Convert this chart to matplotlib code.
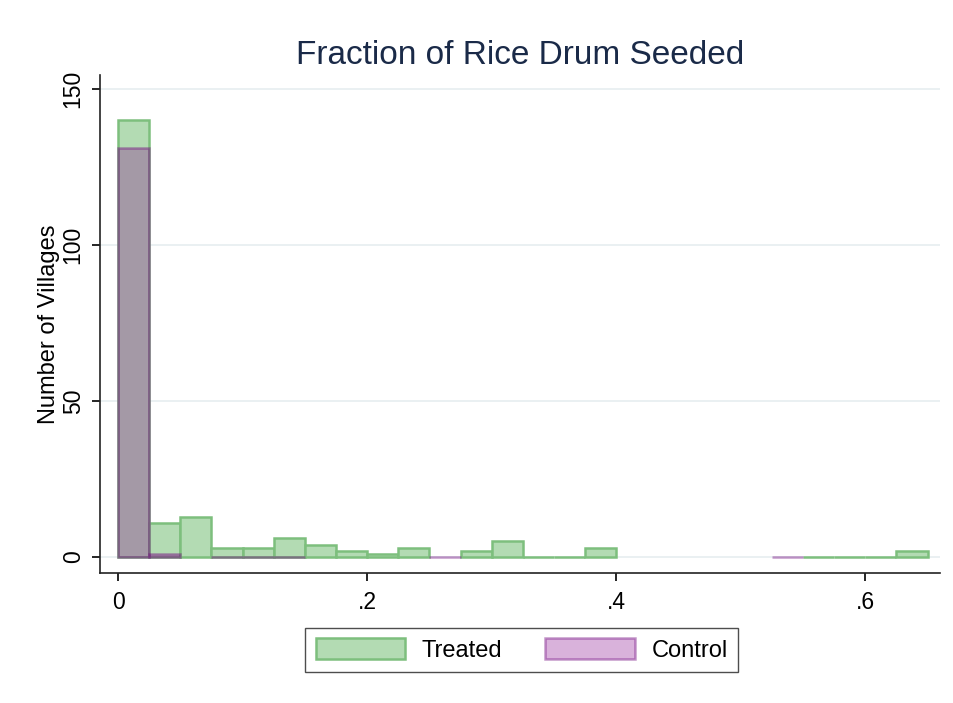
import numpy as np
import matplotlib.pyplot as plt

# bin width 0.025, starting at 0 (nan = no bar drawn)
bin_width = 0.025
treated = [140, 11, 13, 3, 3, 6, 4, 2, 1, 3, np.nan, 2, 5, 0, 0, 3,
           np.nan, np.nan, np.nan, np.nan, np.nan, np.nan, 0, 0, 0, 2]
control = [131, 1, np.nan, 0, 0, 0, np.nan, np.nan, np.nan, np.nan, 0,
           np.nan, np.nan, np.nan, np.nan, np.nan, np.nan, np.nan, np.nan,
           np.nan, np.nan, 0, np.nan, np.nan, np.nan, np.nan]
x_ticks = [0, 0.2, 0.4, 0.6]
x_tick_labels = ["0", ".2", ".4", ".6"]
y_ticks = [0, 50, 100, 150]

plt.rcParams['font.family'] = ['Liberation Sans', 'DejaVu Sans']

fig = plt.figure(figsize=(9.54, 7.03), dpi=100)
ax = fig.add_axes([0.1048, 0.1849, 0.8805, 0.7084])

def draw(values, face, edge, label):
    left = np.arange(len(values)) * bin_width
    vals = np.array(values, dtype=float)
    keep = ~np.isnan(vals)
    ax.bar(left[keep], vals[keep], width=bin_width, align='edge',
           color=face, edgecolor=edge, linewidth=1.8, label=label, zorder=3)

draw(treated, '#b3dbb3', '#7dbf7d', 'Treated')
draw(control, (0.51, 0.01, 0.54, 0.3), (0.45, 0.04, 0.5, 0.42), 'Control')

ax.set_xlim(-0.0145, 0.660)
ax.set_ylim(-5.1, 154.5)
ax.set_xticks(x_ticks)
ax.set_xticklabels(x_tick_labels)
ax.set_yticks(y_ticks)
ax.set_yticklabels([str(v) for v in y_ticks], rotation=90, va='center')
ax.tick_params(axis='both', direction='out', length=6, width=1.2, labelsize=16.5, pad=5)
ax.tick_params(axis='x', pad=7)
ax.yaxis.grid(True, color='#e6edf0', linewidth=1.2, zorder=0)
ax.set_axisbelow(True)
for side in ['top', 'right']:
    ax.spines[side].set_visible(False)
for side in ['left', 'bottom']:
    ax.spines[side].set_linewidth(1.2)
    ax.spines[side].set_color('#222222')

ax.set_ylabel("Number of Villages", fontsize=17, labelpad=1)
ax.set_title("Fraction of Rice Drum Seeded", fontsize=24, color='#1a2a48', pad=8)

leg = ax.legend(loc='upper center', bbox_to_anchor=(0.502, -0.11), ncol=2,
                fontsize=17, frameon=True, fancybox=False, edgecolor='#222222',
                handlelength=3.8, handleheight=0.95, columnspacing=1.8,
                handletextpad=0.7, borderpad=0.45, borderaxespad=0)
leg.get_frame().set_linewidth(1.0)

fig.savefig("out.png", dpi=100, facecolor='white')
